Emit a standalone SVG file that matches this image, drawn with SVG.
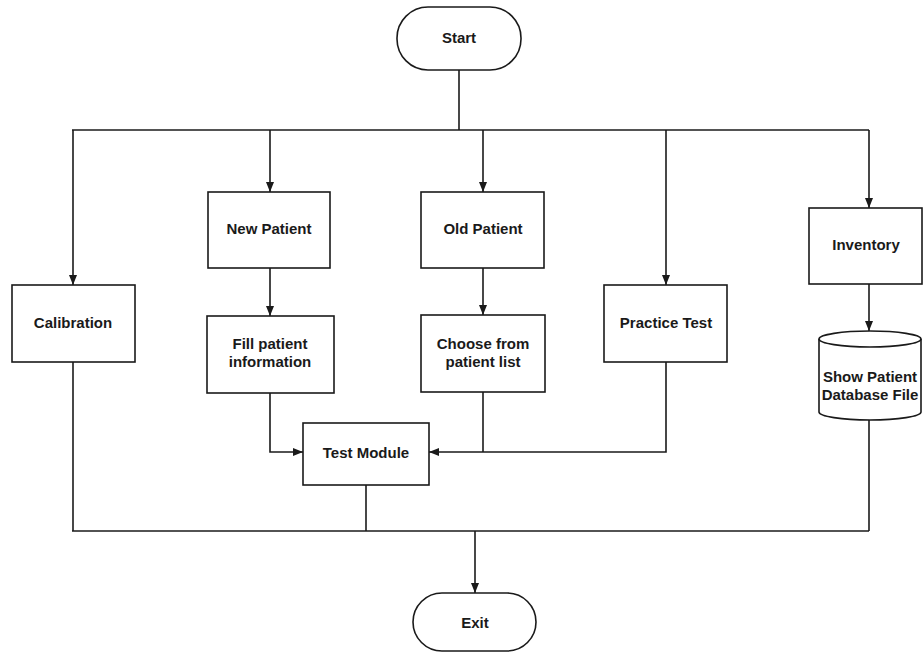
<svg xmlns="http://www.w3.org/2000/svg" width="923" height="653" viewBox="0 0 923 653">
<style>
.n{fill:#fff;stroke:#1a1a1a;stroke-width:1.6}
.t{font-family:"Liberation Sans",Arial,sans-serif;font-weight:bold;font-size:15px;fill:#1a1a1a;text-anchor:middle}
.c{fill:none;stroke:#1a1a1a;stroke-width:1.6}
</style>
<defs>
<marker id="a" markerWidth="10" markerHeight="10" refX="10" refY="5" orient="auto" markerUnits="userSpaceOnUse">
<path d="M0,1 L10,5 L0,9 Z" fill="#1a1a1a"/>
</marker>
</defs>
<g id="connectors">
<path class="c" d="M459,70 V130"/>
<path class="c" d="M72,130 H869"/>
<path class="c" d="M73,130 V285" marker-end="url(#a)"/>
<path class="c" d="M270,130 V192" marker-end="url(#a)"/>
<path class="c" d="M483,130 V192" marker-end="url(#a)"/>
<path class="c" d="M666,130 V285" marker-end="url(#a)"/>
<path class="c" d="M869,130 V208" marker-end="url(#a)"/>
<path class="c" d="M270,268 V316" marker-end="url(#a)"/>
<path class="c" d="M483,268 V315" marker-end="url(#a)"/>
<path class="c" d="M869,284 V331" marker-end="url(#a)"/>
<path class="c" d="M270,393 V452 H303" marker-end="url(#a)"/>
<path class="c" d="M483,392 V452"/>
<path class="c" d="M666,362 V452 H429" marker-end="url(#a)"/>
<path class="c" d="M73,362 V531"/>
<path class="c" d="M366,485 V531"/>
<path class="c" d="M869,420 V531"/>
<path class="c" d="M72,531 H869"/>
<path class="c" d="M475,531 V593" marker-end="url(#a)"/>
</g>
<g id="start"><rect class="n" x="397" y="7" width="124" height="63" rx="31"/><text class="t" x="459" y="43">Start</text></g>
<g id="calibration"><rect class="n" x="12" y="285" width="123" height="77"/><text class="t" x="73" y="328">Calibration</text></g>
<g id="new-patient"><rect class="n" x="208" y="192" width="122" height="76"/><text class="t" x="269" y="234">New Patient</text></g>
<g id="fill-patient"><rect class="n" x="207" y="316" width="127" height="77"/><text class="t" x="270" y="349">Fill patient</text><text class="t" x="270" y="367">information</text></g>
<g id="old-patient"><rect class="n" x="421" y="192" width="123" height="76"/><text class="t" x="483" y="234">Old Patient</text></g>
<g id="choose-patient"><rect class="n" x="421" y="315" width="124" height="77"/><text class="t" x="483" y="349">Choose from</text><text class="t" x="483" y="367">patient list</text></g>
<g id="practice-test"><rect class="n" x="604" y="285" width="123" height="77"/><text class="t" x="666" y="328">Practice Test</text></g>
<g id="inventory"><rect class="n" x="809" y="208" width="113" height="76"/><text class="t" x="866" y="250">Inventory</text></g>
<g id="database"><path class="n" d="M819,339 A51,8 0 0 1 921,339 V412 A51,8 0 0 1 819,412 Z"/><path class="c" d="M819,339 A51,8 0 0 0 921,339"/><text class="t" x="870" y="382">Show Patient</text><text class="t" x="870" y="400">Database File</text></g>
<g id="test-module"><rect class="n" x="303" y="423" width="126" height="62"/><text class="t" x="366" y="458">Test Module</text></g>
<g id="exit"><rect class="n" x="413" y="593" width="123" height="58" rx="29"/><text class="t" x="475" y="628">Exit</text></g>
</svg>
